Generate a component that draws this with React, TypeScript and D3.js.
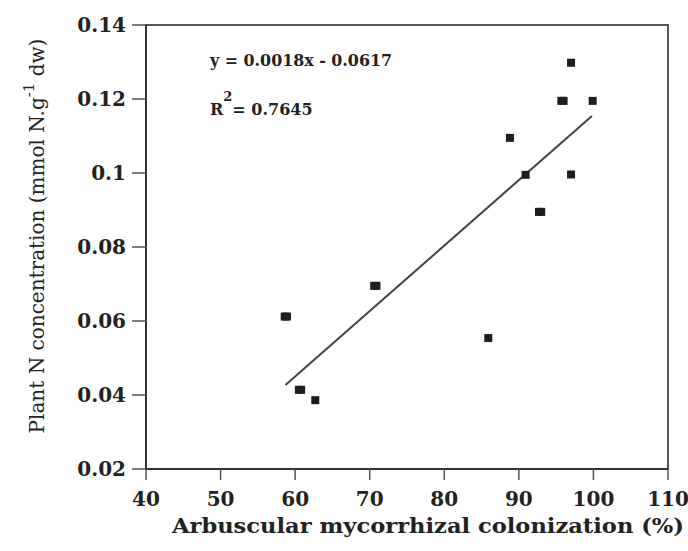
import React from "react";
import * as d3 from "d3";

const colonization = [58.6, 58.9, 60.5, 60.8, 62.7, 70.6, 70.9, 85.9, 88.8, 90.9, 92.7, 93.0, 95.7, 96.0, 97.0, 97.0, 99.9];
const nitrogen = [0.0612, 0.0612, 0.0414, 0.0414, 0.0386, 0.0695, 0.0695, 0.0554, 0.1095, 0.0995, 0.0895, 0.0895, 0.1195, 0.1195, 0.1298, 0.0996, 0.1195];
const trendX = [58.7, 99.8];
const trendY = [0.0427, 0.1154];
const xTicks = [40, 50, 60, 70, 80, 90, 100, 110];
const yTicks = [0.02, 0.04, 0.06, 0.08, 0.1, 0.12, 0.14];
const equationText = "y = 0.0018x - 0.0617";
const r2Value = "= 0.7645";

const FONT = "'DejaVu Serif', serif";

export default function App() {
  const x = d3.scaleLinear().domain([40, 110]).range([146, 668]);
  const y = d3.scaleLinear().domain([0.02, 0.14]).range([469, 25]);
  const line = d3
    .line<number>()
    .x((_, i) => x(trendX[i]))
    .y((d) => y(d));
  const fmtY = (v: number) => String(+v.toFixed(2));
  return (
    <svg
      width={688}
      height={551}
      style={{ position: "absolute", left: 0, top: 0, background: "#fff" }}
      fontFamily={FONT}
      fontWeight="bold"
    >
      <rect x={0} y={0} width={688} height={551} fill="#fff" />
      <rect
        x={x(40)}
        y={y(0.14)}
        width={x(110) - x(40)}
        height={y(0.02) - y(0.14)}
        fill="none"
        stroke="#555"
        strokeWidth={2}
      />
      <line x1={x(40)} x2={x(40)} y1={y(0.14)} y2={y(0.02)} stroke="#333" strokeWidth={2} />
      <line x1={x(40)} x2={x(110)} y1={y(0.02)} y2={y(0.02)} stroke="#333" strokeWidth={2} />
      {yTicks.map((t) => (
        <g key={"y" + t}>
          <line x1={x(40) - 14} x2={x(40)} y1={y(t)} y2={y(t)} stroke="#555" strokeWidth={1.5} />
          <text x={126} y={y(t)} dy="0.36em" textAnchor="end" fontSize={20} fill="#222">
            {fmtY(t)}
          </text>
        </g>
      ))}
      {xTicks.map((t) => (
        <g key={"x" + t}>
          <line x1={x(t)} x2={x(t)} y1={y(0.02)} y2={y(0.02) + 11} stroke="#555" strokeWidth={1.5} />
          <text x={x(t)} y={506} textAnchor="middle" fontSize={20} fill="#222">
            {t}
          </text>
        </g>
      ))}
      <path d={line(trendY) || ""} fill="none" stroke="#444" strokeWidth={2} />
      {colonization.map((c, i) => (
        <rect
          key={"p" + i}
          x={x(c) - 4}
          y={y(nitrogen[i]) - 4}
          width={8}
          height={8}
          fill="#1e1e1e"
        />
      ))}
      <text x={210} y={66} fontSize={16} fill="#222" textLength={182} lengthAdjust="spacingAndGlyphs">
        {equationText}
      </text>
      <text x={210} y={115} fontSize={16} fill="#222">
        R
        <tspan fontSize={13} dy={-14}>2</tspan>
        <tspan dy={14}>{r2Value}</tspan>
      </text>
      <text x={428} y={533} textAnchor="middle" fontSize={20} fill="#222" textLength={512} lengthAdjust="spacingAndGlyphs">
        Arbuscular mycorrhizal colonization (%)
      </text>
      <text
        transform="translate(44,236) rotate(-90)"
        textAnchor="middle"
        fontSize={20}
        fill="#222"
        fontWeight="normal"
      >
        Plant N concentration (mmol N.g
        <tspan fontSize={15} dy={-10}>-1</tspan>
        <tspan dy={10}> dw)</tspan>
      </text>
    </svg>
  );
}
